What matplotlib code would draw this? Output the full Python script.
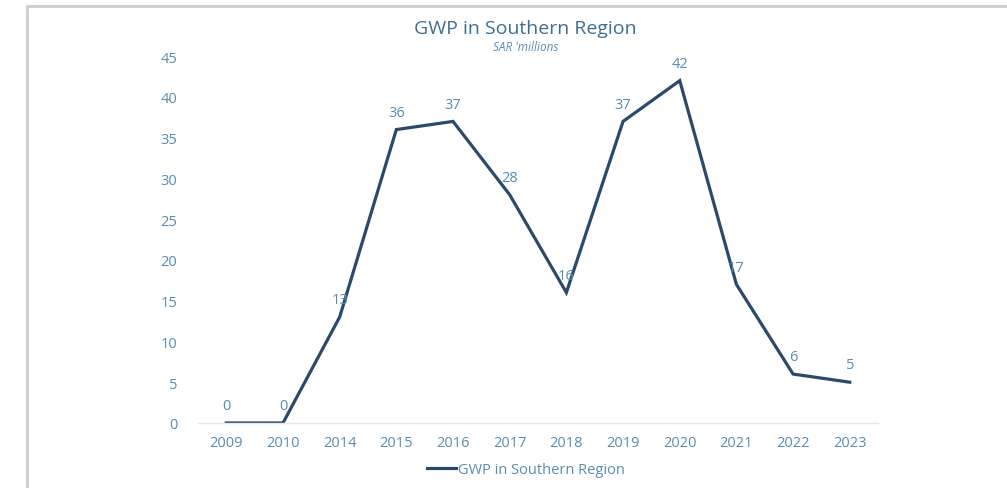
import matplotlib
matplotlib.use("Agg")
import matplotlib.pyplot as plt
from matplotlib.lines import Line2D

# ─── Данные ──────────────────────────────────────────────────
years  = ["2009", "2010", "2014", "2015", "2016", "2017",
          "2018", "2019", "2020", "2021", "2022", "2023"]
gwp    = [0, 0, 13, 36, 37, 28, 16, 37, 42, 17, 6, 5]
y_ticks = [0, 5, 10, 15, 20, 25, 30, 35, 40, 45]

LINE_COLOR  = '#2b4a6b'
TEXT_COLOR  = '#5a8bb0'
TITLE_COLOR = '#3f6e92'
FONT = ['Open Sans', 'DejaVu Sans']

plt.rcParams['font.family'] = FONT

fig = plt.figure(figsize=(10.07, 4.89), dpi=100)
fig.patch.set_facecolor('white')

# серая рамка (как у скриншота)
frame = Line2D([0.027, 0.027, 1.0], [0.0, 0.986, 0.986], transform=fig.transFigure,
               color='#d0d0d0', lw=2.2)
fig.add_artist(frame)

ax = fig.add_axes([0.1966, 0.133, 0.6754, 0.750])
x = list(range(len(years)))
ax.plot(x, gwp, color=LINE_COLOR, lw=2.3, solid_joinstyle='miter')

for xi, v in zip(x, gwp):
    ax.annotate(str(v), (xi, v), xytext=(0, 7), textcoords='offset points',
                ha='center', va='bottom', color=TEXT_COLOR, fontsize=10.5)

ax.set_xlim(-0.5, len(years) - 0.5)
ax.set_ylim(0, 45)
ax.set_xticks(x)
ax.set_xticklabels(years)
ax.set_yticks(y_ticks)
ax.tick_params(axis='both', length=0, colors=TEXT_COLOR, labelsize=10.5)
ax.tick_params(axis='x', pad=9)
ax.tick_params(axis='y', pad=15)
for s in ('top', 'right', 'left'):
    ax.spines[s].set_visible(False)
ax.spines['bottom'].set_color('#e6e6e6')
ax.spines['bottom'].set_linewidth(1.0)

fig.text(0.522, 0.940, 'GWP in Southern Region', ha='center', va='center',
         color=TITLE_COLOR, fontsize=14)
fig.text(0.522, 0.903, "SAR 'millions", ha='center', va='center',
         color=TEXT_COLOR, fontsize=8.5, style='italic')

leg_handle = Line2D([], [], color=LINE_COLOR, lw=2.3)
fig.legend([leg_handle], ['GWP in Southern Region'], loc='center',
           bbox_to_anchor=(0.522, 0.037), frameon=False, fontsize=10.5,
           labelcolor=TEXT_COLOR, handlelength=2.0, handletextpad=0.1)

fig.savefig('out.png', dpi=100, facecolor='white')
